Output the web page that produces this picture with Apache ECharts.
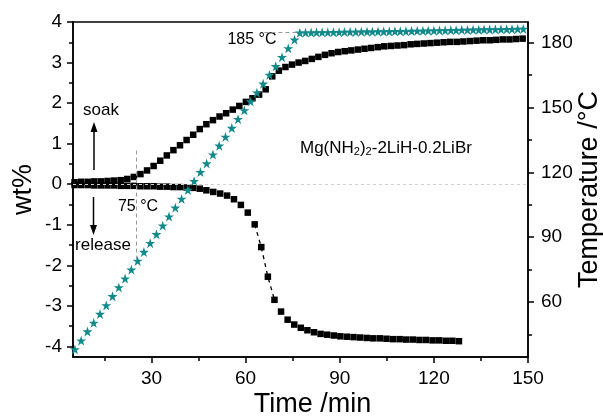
<!DOCTYPE html>
<html>
<head>
<meta charset="utf-8">
<script src="https://cdn.jsdelivr.net/npm/echarts@6/dist/echarts.min.js"></script>
<style>
  html, body { margin: 0; padding: 0; background: #fff; }
  #chart { width: 603px; height: 419px; }
</style>
</head>
<body>
<div id="chart"></div>
<script>
// Hydrogen soak (absorption) run, wt% vs time
const soakTime = [5.5,7.6,9.7,11.8,13.9,16.0,18.1,20.2,22.3,24.4,26.5,28.6,30.7,32.8,34.9,37.0,39.1,41.2,43.3,45.4,47.5,49.6,51.7,53.8,55.9,58.0,60.1,62.2,64.3,66.4,68.5,70.6,72.7,74.8,76.9,79.0,81.1,83.2,85.3,87.4,89.5,91.6,93.7,95.8,97.9,100.0,102.1,104.2,106.3,108.4,110.5,112.6,114.7,116.8,118.9,121.0,123.1,125.2,127.3,129.4,131.5,133.6,135.7,137.8,139.9,142.0,144.1,146.2,148.3];
const soakWt = [0.05,0.06,0.06,0.07,0.07,0.08,0.09,0.10,0.13,0.18,0.25,0.34,0.45,0.58,0.71,0.84,0.96,1.09,1.22,1.36,1.48,1.58,1.67,1.75,1.84,1.93,2.03,2.12,2.21,2.34,2.66,2.80,2.89,2.95,3.00,3.04,3.09,3.14,3.19,3.23,3.26,3.28,3.30,3.32,3.34,3.36,3.38,3.40,3.41,3.42,3.43,3.45,3.46,3.47,3.48,3.49,3.50,3.51,3.51,3.52,3.53,3.54,3.55,3.55,3.56,3.57,3.57,3.58,3.59];

// Hydrogen release (desorption) run
const releaseTime = [5.5,7.6,9.7,11.8,13.9,16.0,18.1,20.2,22.3,24.4,26.5,28.6,30.7,32.8,34.9,37.0,39.1,41.2,43.3,45.4,47.5,49.7,51.9,54.1,56.3,58.5,60.7,62.9,65.0,67.1,69.2,71.3,73.4,75.5,77.6,79.7,81.8,83.9,86.0,88.1,90.2,92.3,94.4,96.5,98.6,100.7,102.8,104.9,107.0,109.1,111.2,113.3,115.4,117.5,119.6,121.7,123.8,125.9,128.0];
const releaseWt = [-0.02,-0.02,-0.02,-0.03,-0.03,-0.03,-0.03,-0.04,-0.04,-0.04,-0.05,-0.05,-0.05,-0.06,-0.06,-0.07,-0.07,-0.08,-0.09,-0.11,-0.15,-0.19,-0.23,-0.28,-0.37,-0.51,-0.70,-0.99,-1.55,-2.28,-2.85,-3.14,-3.34,-3.46,-3.54,-3.60,-3.65,-3.69,-3.71,-3.73,-3.75,-3.76,-3.77,-3.78,-3.79,-3.80,-3.80,-3.81,-3.82,-3.82,-3.83,-3.83,-3.84,-3.84,-3.85,-3.85,-3.86,-3.86,-3.87];

// Sample temperature (right axis)
const tempTime = [5.6,7.6,9.6,11.6,13.6,15.6,17.6,19.6,21.6,23.6,25.6,27.6,29.6,31.6,33.6,35.6,37.6,39.6,41.6,43.6,45.6,47.6,49.6,51.6,53.6,55.6,57.6,59.6,61.6,63.6,65.6,67.6,69.6,71.6,73.6,75.6,
  77.3,79.1,80.9,82.6,84.4,86.2,88.0,89.8,91.5,93.3,95.1,96.9,98.7,100.4,102.2,104.0,105.8,107.6,109.3,111.1,112.9,114.7,116.5,118.2,120.0,121.8,123.6,125.4,127.1,128.9,130.7,132.5,134.3,136.0,137.8,139.6,141.4,143.2,144.9,146.7,148.5];
const tempC = [38.0,42.1,46.3,50.3,54.4,58.4,62.6,66.7,70.8,74.9,79.0,83.1,87.2,91.3,95.3,99.5,103.6,107.7,111.8,115.9,120.1,124.1,128.2,132.3,136.4,140.5,144.6,148.7,152.8,156.9,161.0,165.1,169.1,173.3,177.4,181.4,
  184.6,184.7,184.7,184.8,184.8,184.8,184.9,184.9,185.0,185.0,185.0,185.1,185.1,185.1,185.2,185.2,185.2,185.3,185.3,185.3,185.4,185.5,185.5,185.6,185.6,185.7,185.7,185.8,185.8,185.9,185.9,186.0,186.0,186.1,186.1,186.2,186.2,186.3,186.3,186.4,186.4];

// Axis ticks
const timeMajor = [30, 60, 90, 120, 150];
const timeMinor = [15, 45, 75, 105, 135];
const wtMajor = [-4, -3, -2, -1, 0, 1, 2, 3, 4];
const wtMinor = [-3.5, -2.5, -1.5, -0.5, 0.5, 1.5, 2.5, 3.5];
const tempMajor = [60, 90, 120, 150, 180];
const tempMinor = [45, 75, 105, 135, 165];

// Reference marks
const onsetTime = 25;        // 75 °C onset
const holdTemp = 185;        // isothermal hold

const pair = (xs, ys) => xs.slice(0, Math.min(xs.length, ys.length)).map((x, i) => [x, ys[i]]);
const soakData = pair(soakTime, soakWt);
const releaseData = pair(releaseTime, releaseWt);
const tempData = pair(tempTime, tempC);
const releaseSteep = releaseData.filter(p => p[0] > 62 && p[0] < 70);

const FONT = "'Liberation Sans', Arial, Helvetica, sans-serif";
const STAR = 'path://M50,2 L61.2,36.2 L97.5,36.2 L68.1,57.5 L79.4,92 L50,70.6 L20.6,92 L31.9,57.5 L2.5,36.2 L38.8,36.2 Z';

const axisLine = { show: true, onZero: false, lineStyle: { color: '#000', width: 1.5 } };
const hiddenLine = { show: false, onZero: false };
const label = { color: '#000', fontSize: 19, fontFamily: FONT };
const titleStyle = { color: '#000', fontSize: 27, fontFamily: FONT };

const chart = echarts.init(document.getElementById('chart'), null, { renderer: 'canvas' });

chart.setOption({
  animation: false,
  backgroundColor: '#fff',
  grid: {
    left: 73, right: 75, top: 22, bottom: 62,
    containLabel: false, outerBoundsMode: 'none',
    show: true, borderColor: '#000', borderWidth: 1.5, backgroundColor: 'transparent'
  },
  xAxis: [
    {
      type: 'value', min: 5, max: 150, position: 'bottom',
      name: 'Time /min', nameLocation: 'middle', nameGap: 34, nameMoveOverlap: false,
      nameTextStyle: { ...titleStyle, padding: [0, 0, 0, 24] },
      axisLine: axisLine,
      axisTick: { show: true, inside: false, length: 6, customValues: timeMajor, lineStyle: { color: '#000', width: 1.5 } },
      axisLabel: { ...label, margin: 12, customValues: timeMajor },
      splitLine: { show: false }
    },
    {
      type: 'value', min: 5, max: 150, position: 'bottom',
      axisLine: hiddenLine,
      axisTick: { show: true, inside: false, length: 4, customValues: timeMinor, lineStyle: { color: '#000', width: 1.5 } },
      axisLabel: { show: false },
      splitLine: { show: false }
    }
  ],
  yAxis: [
    {
      type: 'value', min: -4.26, max: 4, position: 'left',
      name: 'wt%', nameLocation: 'middle', nameGap: 36, nameRotate: 90, nameMoveOverlap: false,
      nameTextStyle: titleStyle,
      axisLine: axisLine,
      axisTick: { show: true, inside: false, length: 6, customValues: wtMajor, lineStyle: { color: '#000', width: 1.5 } },
      axisLabel: { ...label, margin: 11, customValues: wtMajor },
      splitLine: { show: false }
    },
    {
      type: 'value', min: 34.5, max: 189.6, position: 'right',
      name: 'Temperature /\u00B0C', nameLocation: 'middle', nameGap: 48, nameRotate: 90, nameMoveOverlap: false,
      nameTextStyle: titleStyle,
      axisLine: axisLine,
      axisTick: { show: true, inside: false, length: 6, customValues: tempMajor, lineStyle: { color: '#000', width: 1.5 } },
      axisLabel: { ...label, margin: 13, customValues: tempMajor },
      splitLine: { show: false }
    },
    {
      type: 'value', min: -4.26, max: 4, position: 'left',
      axisLine: hiddenLine,
      axisTick: { show: true, inside: false, length: 4, customValues: wtMinor, lineStyle: { color: '#000', width: 1.5 } },
      axisLabel: { show: false },
      splitLine: { show: false }
    },
    {
      type: 'value', min: 34.5, max: 189.6, position: 'right',
      axisLine: hiddenLine,
      axisTick: { show: true, inside: false, length: 4, customValues: tempMinor, lineStyle: { color: '#000', width: 1.5 } },
      axisLabel: { show: false },
      splitLine: { show: false }
    }
  ],
  series: [
    {
      name: 'soak', type: 'scatter', xAxisIndex: 0, yAxisIndex: 0,
      data: soakData, symbol: 'rect', symbolSize: 6.5,
      itemStyle: { color: '#000', opacity: 1 },
      markLine: {
        silent: true, symbol: ['none', 'none'], label: { show: false },
        lineStyle: { color: '#d0d0d0', type: [3, 3], width: 1, opacity: 1 },
        emphasis: { disabled: true },
        data: [{ yAxis: 0, lineStyle: { color: '#d0d0d0', type: [3, 3], width: 1 } }]
      }
    },
    {
      name: 'release', type: 'scatter', xAxisIndex: 0, yAxisIndex: 0,
      data: releaseData, symbol: 'rect', symbolSize: 6.5,
      itemStyle: { color: '#000', opacity: 1 },
      markLine: {
        silent: true, symbol: ['none', 'none'], label: { show: false },
        lineStyle: { color: '#9a9a9a', type: [4, 3], width: 1 },
        data: [[{ coord: [onsetTime, 0.83] }, { coord: [onsetTime, -1.85] }]]
      }
    },
    {
      name: 'release-link', type: 'line', xAxisIndex: 0, yAxisIndex: 0,
      data: releaseSteep, showSymbol: false, silent: true,
      lineStyle: { color: '#000', width: 1.3, type: [4, 4] }
    },
    {
      name: 'temperature', type: 'scatter', xAxisIndex: 0, yAxisIndex: 1,
      data: tempData, symbol: STAR, symbolSize: 10,
      itemStyle: { color: '#12898b', opacity: 1 },
      markLine: {
        silent: true, symbol: ['none', 'none'], label: { show: false },
        lineStyle: { color: '#9a9a9a', type: [4, 3], width: 1 },
        data: [[{ coord: [66, holdTemp] }, { coord: [77.2, holdTemp] }]]
      }
    }
  ],
  graphic: [
    // soak arrow
    { type: 'line', shape: { x1: 94, y1: 170, x2: 94, y2: 130 }, style: { stroke: '#000', lineWidth: 1.5 } },
    { type: 'polygon', shape: { points: [[94, 122], [90.5, 132], [97.5, 132]] }, style: { fill: '#000' } },
    { type: 'text', x: 101, y: 110, style: { text: 'soak', fill: '#000', font: '17px ' + FONT, align: 'center', verticalAlign: 'middle' } },
    // release arrow
    { type: 'line', shape: { x1: 93.5, y1: 197, x2: 93.5, y2: 227 }, style: { stroke: '#000', lineWidth: 1.5 } },
    { type: 'polygon', shape: { points: [[93.5, 235], [90, 225], [97, 225]] }, style: { fill: '#000' } },
    { type: 'text', x: 103, y: 245, style: { text: 'release', fill: '#000', font: '17px ' + FONT, align: 'center', verticalAlign: 'middle' } },
    // temperature annotations
    { type: 'text', x: 138, y: 207, style: { text: '75 \u00B0C', fill: '#000', font: '16px ' + FONT, align: 'center', verticalAlign: 'middle' } },
    { type: 'text', x: 252, y: 40, style: { text: '185 \u00B0C', fill: '#000', font: '16px ' + FONT, align: 'center', verticalAlign: 'middle' } },
    // sample composition
    {
      type: 'text', x: 300, y: 140,
      style: {
        text: 'Mg(NH{s|2}){s|2}-2LiH-0.2LiBr',
        fill: '#000', font: '17px ' + FONT, align: 'left', verticalAlign: 'top',
        rich: {
          s: { fontSize: 11, fontFamily: FONT, fill: '#000', verticalAlign: 'bottom', lineHeight: 11 }
        }
      }
    }
  ]
});
</script>
</body>
</html>
